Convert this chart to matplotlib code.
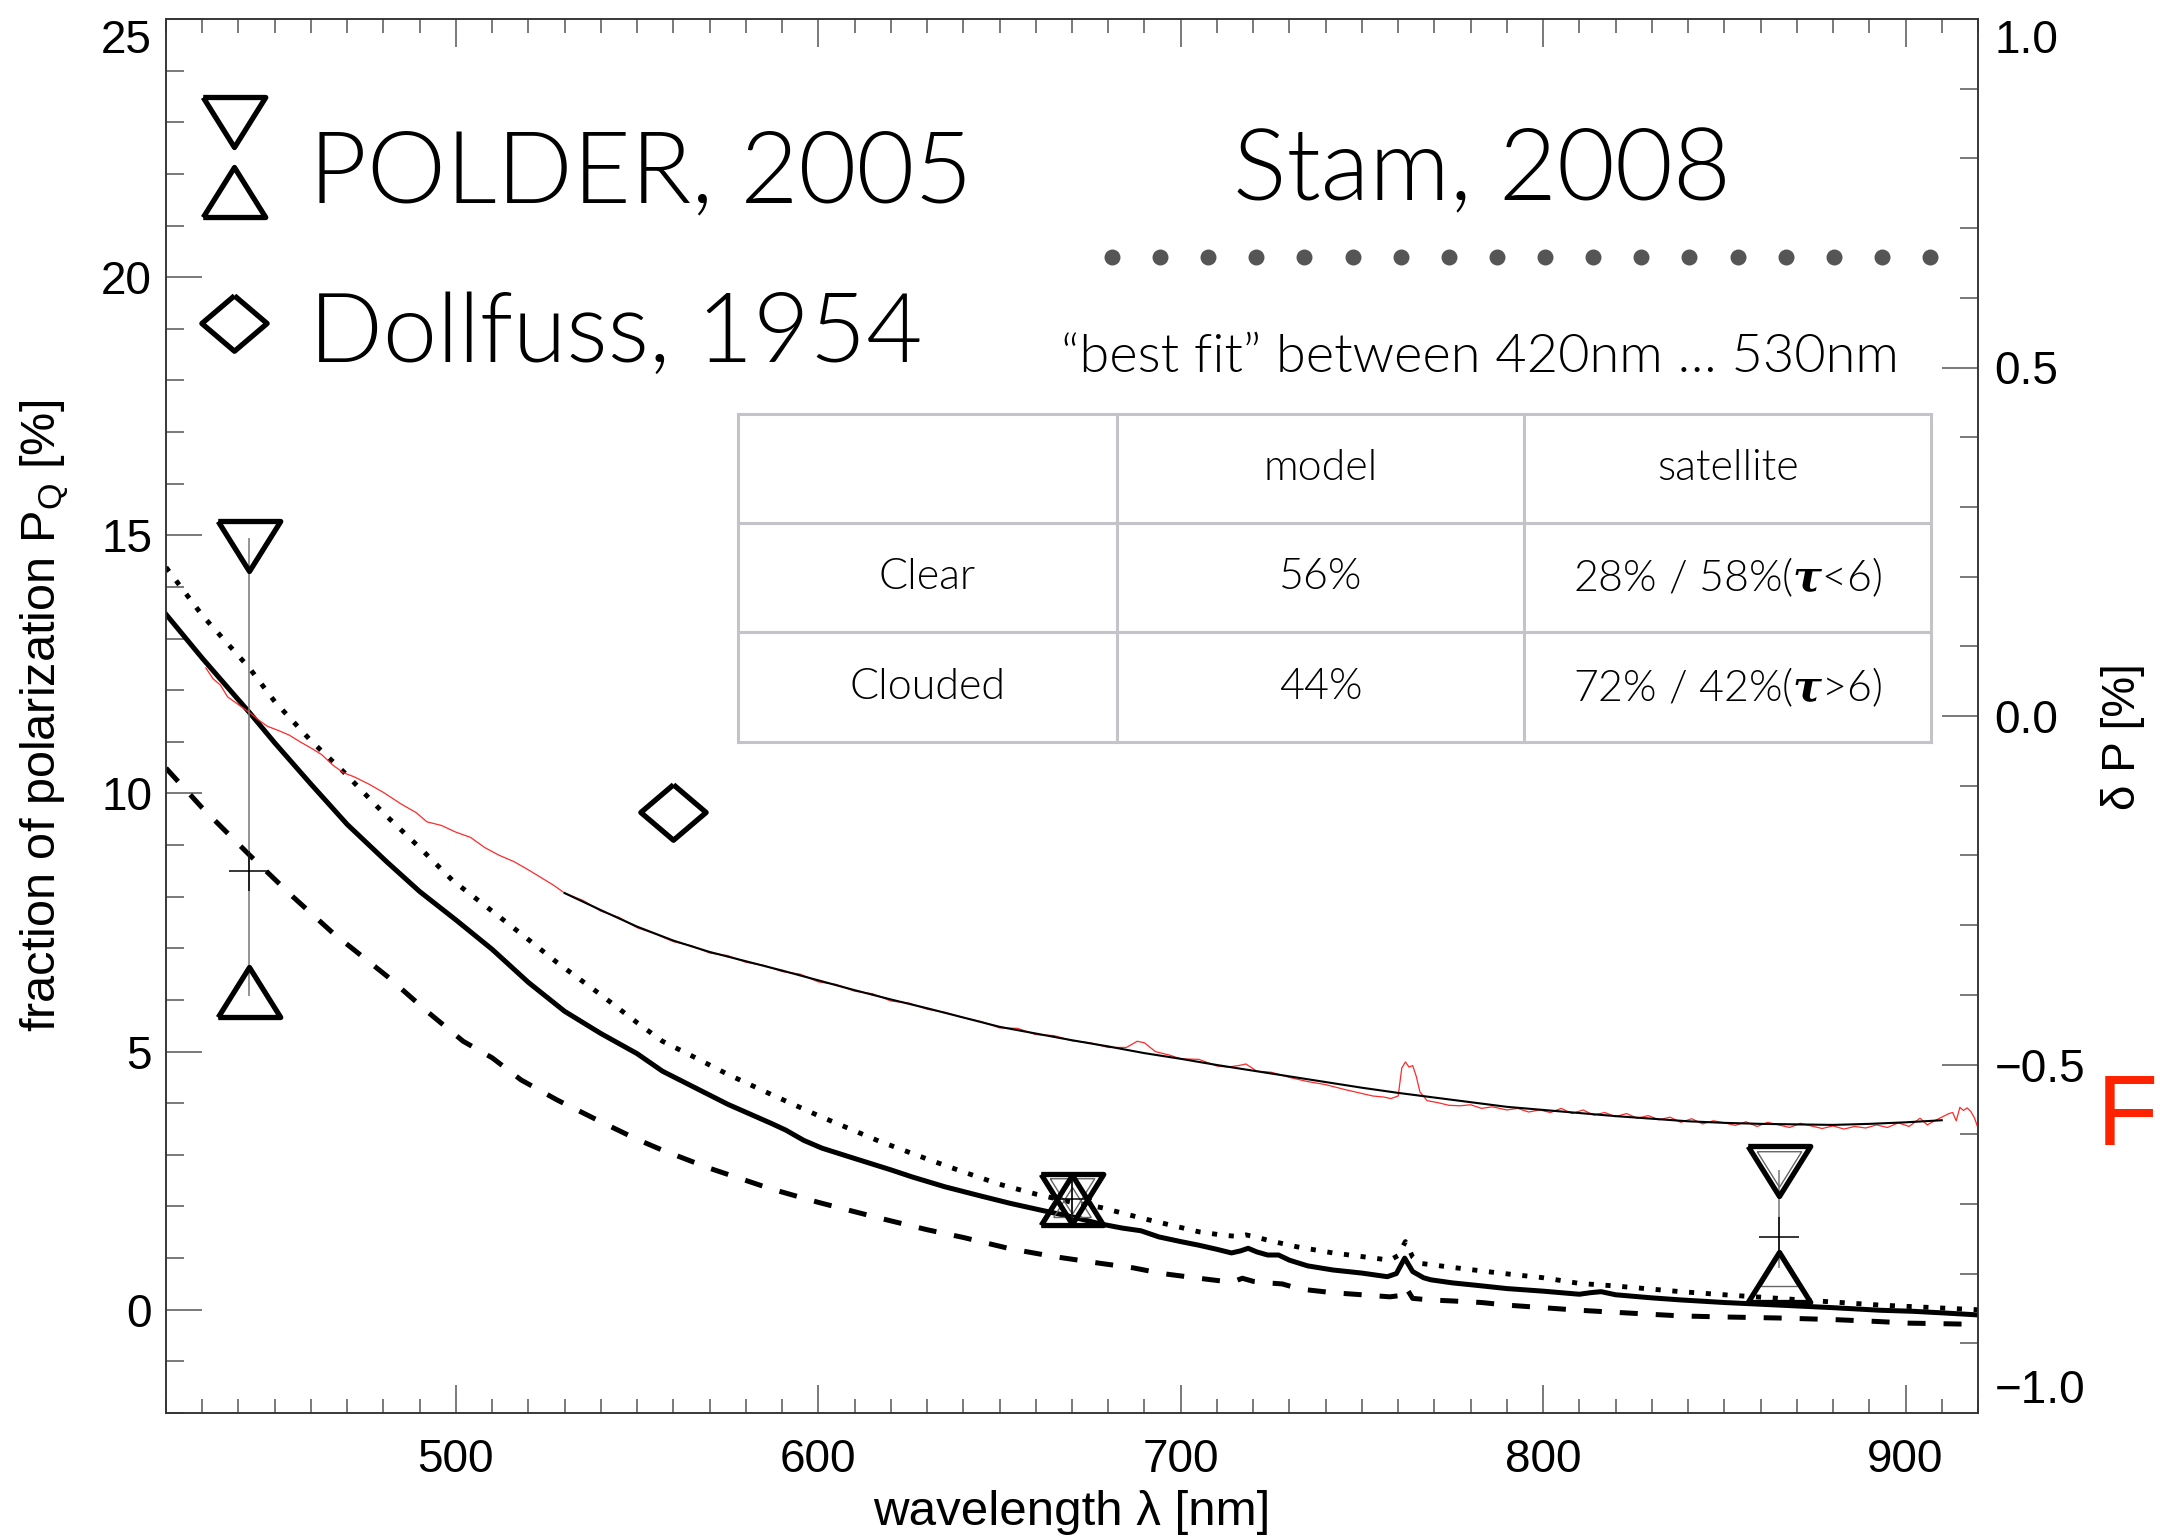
import os
import numpy as np
import matplotlib
matplotlib.use("Agg")
import matplotlib.pyplot as plt
from matplotlib import font_manager as fm
from matplotlib.ticker import MultipleLocator, FuncFormatter

plt.rcParams['font.family'] = ['Liberation Sans', 'DejaVu Sans']
plt.rcParams['mathtext.fontset'] = 'custom'
plt.rcParams['mathtext.rm'] = 'Liberation Sans'
plt.rcParams['mathtext.it'] = 'Liberation Sans:italic'
plt.rcParams['mathtext.bf'] = 'Liberation Sans:bold'
plt.rcParams['mathtext.bfit'] = 'DejaVu Serif:italic:bold'

# ---------------- data ----------------
# Model spectra, fraction of polarization P_Q [%] vs wavelength [nm]
model_solid = [
    (420, 13.47), (430, 12.62), (443, 11.57), (450, 10.98), (460, 10.18), (470, 9.40),
    (481, 8.67), (490, 8.10), (500, 7.55), (510, 6.98), (520, 6.34), (530, 5.78),
    (540, 5.35), (550, 4.96), (557, 4.62), (566, 4.30), (575, 3.98), (587, 3.61),
    (591, 3.48), (596, 3.28), (601, 3.13), (610, 2.93), (620, 2.71), (626, 2.57),
    (635, 2.38), (645, 2.20), (653, 2.06), (662, 1.92), (670, 1.80), (678, 1.66),
    (684, 1.58), (689, 1.53), (694, 1.41), (700, 1.32), (705, 1.25), (710, 1.17),
    (714, 1.10), (716.5, 1.14), (718.6, 1.19), (721, 1.12), (724, 1.06), (727, 1.06),
    (730, 0.96), (735, 0.85), (742, 0.77), (750, 0.71), (757, 0.64), (759.5, 0.70),
    (761.8, 1.00), (764, 0.74), (767, 0.62), (769, 0.58), (775, 0.52), (782, 0.47),
    (790, 0.41), (800, 0.36), (810, 0.30), (813, 0.33), (816, 0.35), (820, 0.29),
    (830, 0.23), (838, 0.19), (850, 0.14), (865, 0.09), (880, 0.04), (893, -0.01),
    (902, -0.03), (910, -0.06), (920, -0.10),
]

model_dotted = [
    (420, 14.38), (430, 13.45), (443, 12.43), (450, 11.78), (460, 11.02), (469, 10.42),
    (480, 9.62), (490, 8.95), (499, 8.32), (510, 7.72), (520, 7.17), (528, 6.72),
    (540, 6.10), (550, 5.56), (557, 5.20), (565, 4.92), (575, 4.56), (587, 4.17),
    (600, 3.76), (616.6, 3.27), (630, 2.92), (640, 2.67), (650, 2.43), (660, 2.24),
    (670, 2.08), (678, 1.98), (690, 1.76), (705, 1.51), (712, 1.44), (716, 1.42),
    (718, 1.45), (720, 1.42), (725, 1.33), (732, 1.22), (742, 1.10), (750, 1.03),
    (757.7, 0.96), (760, 1.05), (762, 1.32), (764, 1.02), (766, 0.90), (775, 0.82),
    (788, 0.71), (800, 0.62), (810, 0.51), (820, 0.46), (838, 0.35), (850, 0.29),
    (865, 0.22), (880, 0.15), (893, 0.09), (905, 0.05), (917, 0.01), (920, 0.00),
]

model_dashed = [
    (420, 10.49), (430, 9.72), (443, 8.81), (455, 8.00), (466, 7.30), (481, 6.46),
    (492, 5.78), (502, 5.20), (510, 4.88), (518, 4.45), (528, 4.06), (540, 3.64),
    (550, 3.30), (557, 3.09), (570, 2.74), (587, 2.34), (600, 2.08), (616.6, 1.78),
    (630, 1.55), (640, 1.40), (653, 1.18), (665, 1.03), (677.7, 0.90), (687, 0.81),
    (695, 0.70), (705, 0.61), (712, 0.55), (714.4, 0.54), (717, 0.61), (720, 0.55),
    (724, 0.52), (728, 0.50), (733, 0.40), (742, 0.33), (750, 0.29), (757.7, 0.25),
    (760, 0.27), (762, 0.45), (764, 0.22), (768.8, 0.19), (775, 0.17), (783, 0.14),
    (790, 0.09), (800, 0.04), (810, -0.01), (820, -0.05), (838, -0.12), (850, -0.14),
    (865, -0.16), (880, -0.19), (893, -0.23), (901, -0.26), (910, -0.27), (917, -0.28),
]

# Observed spectrum (thin red) and its smooth fit (thin black)
observed = [
    (431, 12.43), (433, 12.22), (435, 12.10), (437, 11.87), (440, 11.72), (443, 11.57),
    (446, 11.40), (448, 11.30), (451, 11.22), (454, 11.13), (457, 11.00), (460, 10.88),
    (463, 10.75), (466, 10.55), (469, 10.40), (472, 10.32), (476, 10.18), (480, 10.02),
    (485, 9.79), (489, 9.63), (492, 9.45), (496, 9.38), (500, 9.25), (504, 9.15),
    (508, 8.95), (512, 8.80), (516, 8.68), (520, 8.52), (524, 8.35), (527, 8.22),
    (530, 8.07), (535, 7.93), (540, 7.72), (545, 7.60), (550, 7.40), (555, 7.28),
    (560, 7.13), (565, 7.05), (570, 6.91), (575, 6.86), (580, 6.73), (585, 6.67),
    (590, 6.55), (595, 6.50), (600, 6.35), (605, 6.30), (610, 6.17), (615, 6.12),
    (620, 5.98), (625, 5.94), (630, 5.82), (635, 5.76), (640, 5.66), (645, 5.58),
    (650, 5.46), (655, 5.45), (660, 5.33), (665, 5.31), (670, 5.21), (675, 5.17),
    (680, 5.08), (685, 5.08), (688, 5.20), (690, 5.17), (693, 5.00), (697, 4.93),
    (700, 4.86), (705, 4.85), (710, 4.72), (713, 4.70), (716, 4.73), (718, 4.76),
    (721, 4.62), (725, 4.60), (730, 4.50), (735, 4.42), (740, 4.36), (745, 4.27),
    (750, 4.19), (753, 4.14), (756, 4.12), (758, 4.09), (760, 4.14), (761, 4.68),
    (762, 4.80), (763, 4.70), (764, 4.73), (765, 4.52), (766, 4.22), (768, 4.05),
    (771, 4.01), (774, 3.96), (777, 3.95), (780, 3.97), (783, 3.90), (786, 3.93),
    (790, 3.87), (793, 3.90), (796, 3.83), (799, 3.87), (802, 3.82), (805, 3.90),
    (808, 3.80), (811, 3.87), (814, 3.77), (817, 3.82), (820, 3.74), (823, 3.80),
    (826, 3.71), (829, 3.76), (832, 3.68), (835, 3.73), (838, 3.63), (841, 3.70),
    (844, 3.60), (847, 3.66), (850, 3.62), (853, 3.57), (856, 3.64), (859, 3.55),
    (862, 3.63), (865, 3.58), (868, 3.53), (871, 3.61), (874, 3.56), (877, 3.51),
    (880, 3.56), (883, 3.50), (886, 3.55), (889, 3.52), (892, 3.58), (895, 3.53),
    (898, 3.62), (901, 3.55), (904, 3.71), (906, 3.58), (908, 3.66), (910, 3.73),
    (912, 3.80), (913, 3.82), (914, 3.66), (915, 3.92), (916, 3.86), (917, 3.91),
    (918, 3.84), (919, 3.72), (920, 3.52),
]

observed_fit = [
    (530, 8.07), (540, 7.74), (550, 7.42), (560, 7.15), (570, 6.93), (580, 6.75),
    (590, 6.57), (600, 6.38), (610, 6.19), (620, 6.01), (630, 5.84), (640, 5.66),
    (650, 5.48), (660, 5.35), (670, 5.22), (680, 5.10), (690, 4.97), (700, 4.86),
    (710, 4.74), (720, 4.63), (730, 4.52), (740, 4.41), (750, 4.30), (760, 4.20),
    (770, 4.11), (780, 4.02), (790, 3.93), (800, 3.87), (810, 3.81), (820, 3.75),
    (830, 3.70), (840, 3.65), (850, 3.62), (860, 3.60), (870, 3.59), (880, 3.58),
    (890, 3.60), (900, 3.63), (910, 3.67),
]

# POLDER (2005) satellite values
polder_wl = [443, 670, 865]
polder_max = [14.79, 2.14, 2.68]
polder_min = [6.16, 2.12, 0.64]
polder_mean = [8.49, 2.14, 1.41]
polder_bar_hi = [14.94, 2.55, 2.70]
polder_bar_lo = [6.07, 1.75, 0.81]
polder_inner_wl = [670, 865]
polder_inner_hi = [2.20, 2.72]
polder_inner_lo = [2.08, 0.75]

# Dollfuss (1954)
dollfuss_wl = [560]
dollfuss_pq = [9.64]

table_cols = ["", "model", "satellite"]
table_rows = [
    ["Clear", "56%", r"28% / 58%($\mathbfit{\tau}$<6)"],
    ["Clouded", "44%", r"72% / 42%($\mathbfit{\tau}$>6)"],
]


# ---------------- fonts ----------------
def light_font():
    """Lato Light if it is installed, else regular Lato."""
    for f in fm.findSystemFonts():
        if os.path.basename(f).lower() in ('lato-light.ttf', 'lato-light.otf'):
            return dict(fontproperties=fm.FontProperties(fname=f))
    return dict(family=['Lato', 'DejaVu Sans'])


LIGHT = light_font()

# ---------------- figure ----------------
W, H = 2160, 1537
fig = plt.figure(figsize=(W / 100, H / 100), dpi=100)
AX_L, AX_R, AX_T, AX_B = 166, 1978, 19, 1413
ax = fig.add_axes([AX_L / W, (H - AX_B) / H, (AX_R - AX_L) / W, (AX_B - AX_T) / H])


def frac(x, y):
    """Pixel position (from top-left of the figure) -> axes fraction."""
    return (x - AX_L) / (AX_R - AX_L), (AX_B - y) / (AX_B - AX_T)


def unzip(pairs):
    a = np.array(pairs, dtype=float)
    return a[:, 0], a[:, 1]


def light_text(x, y, s, size, **kw):
    props = dict(LIGHT)
    if 'fontproperties' in props:
        fp = props['fontproperties'].copy()
        fp.set_size(size)
        props['fontproperties'] = fp
    else:
        props['fontsize'] = size
    return ax.text(x, y, s, transform=ax.transAxes, color='black', **props, **kw)


ax.set_xlim(420, 920)
ax.set_ylim(-2, 25)

# model curves
x, y = unzip(model_dashed)
ax.plot(x, y, color='black', lw=3.6, linestyle=(0, (3.6, 3.6)), dash_capstyle='butt', zorder=3)
x, y = unzip(model_dotted)
ax.plot(x, y, color='black', lw=3.5, linestyle=(0, (1.05, 2.4)), dash_capstyle='butt', zorder=3)
x, y = unzip(model_solid)
ax.plot(x, y, color='black', lw=3.6, solid_joinstyle='round', zorder=3)

# observed spectrum + fit
x, y = unzip(observed)
ax.plot(x, y, color='#ff2a2a', lw=0.9, zorder=4)
x, y = unzip(observed_fit)
ax.plot(x, y, color='black', lw=1.5, zorder=5)

# marker shapes (width-normalised)
tri_down = [(-1, 0.80), (1, 0.80), (0, -0.80), (-1, 0.80)]
tri_up = [(-1, -0.80), (1, -0.80), (0, 0.80), (-1, -0.80)]
diamond = [(0, 0.85), (1, 0), (0, -0.85), (-1, 0), (0, 0.85)]
MS_TRI, MS_DIA, MEW = 45, 47, 3.8

# POLDER error bars and symbols
ax.vlines(polder_wl, polder_bar_lo, polder_bar_hi, colors='#777777', lw=1.1, zorder=5)
ax.plot(polder_inner_wl, polder_inner_hi, linestyle='none', marker=tri_down, ms=32,
        mfc='none', mec='#666666', mew=1.0, zorder=6)
ax.plot(polder_inner_wl, polder_inner_lo, linestyle='none', marker=tri_up, ms=27,
        mfc='none', mec='#666666', mew=1.0, zorder=6)
ax.plot(polder_wl, polder_max, linestyle='none', marker=tri_down, ms=MS_TRI,
        mfc='none', mec='black', mew=MEW, zorder=7)
ax.plot(polder_wl, polder_min, linestyle='none', marker=tri_up, ms=MS_TRI,
        mfc='none', mec='black', mew=MEW, zorder=7)
ax.plot(polder_wl, polder_mean, linestyle='none', marker='+', ms=29,
        mec='black', mew=1.1, zorder=7)

# Dollfuss point
ax.plot(dollfuss_wl, dollfuss_pq, linestyle='none', marker=diamond, ms=MS_DIA,
        mfc='none', mec='black', mew=MEW, zorder=7)

# ---------------- axes styling ----------------
spine_c = '#333333'
tick_c = '#555555'
for s in ax.spines.values():
    s.set_color(spine_c)
    s.set_linewidth(1.1)

ax.xaxis.set_major_locator(MultipleLocator(100))
ax.xaxis.set_minor_locator(MultipleLocator(10))
ax.yaxis.set_major_locator(MultipleLocator(5))
ax.yaxis.set_minor_locator(MultipleLocator(1))
ax.tick_params(axis='x', which='both', direction='in', top=True, bottom=True,
               color=tick_c, width=1.1, labelsize=33, pad=18)
ax.tick_params(axis='x', which='major', length=20)
ax.tick_params(axis='x', which='minor', length=10)
ax.tick_params(axis='y', which='both', direction='in', left=True, right=False,
               color=tick_c, width=1.1, labelsize=33, pad=10)
ax.tick_params(axis='y', which='major', length=26)
ax.tick_params(axis='y', which='minor', length=13)

ax.set_xlabel('wavelength \u03bb [nm]', fontsize=35.5)
ax.xaxis.set_label_coords(0.5, frac(0, 1490)[1])
ax.set_ylabel(r'fraction of polarization P$_{\mathrm{Q}}$ [%]', fontsize=35)
ax.yaxis.set_label_coords(frac(71, 0)[0], 0.5)

ax2 = ax.twinx()
ax2.set_ylim(-1, 1)
for s in ax2.spines.values():
    s.set_color(spine_c)
    s.set_linewidth(1.1)
ax2.yaxis.set_major_locator(MultipleLocator(0.5))
ax2.yaxis.set_minor_locator(MultipleLocator(0.1))
ax2.yaxis.set_major_formatter(FuncFormatter(
    lambda v, _: ('%.1f' % (0.0 if abs(v) < 1e-9 else v)).replace('-', '\u2212')))
ax2.tick_params(axis='y', which='both', direction='in', color=tick_c, width=1.1,
                labelsize=33, pad=12)
ax2.tick_params(axis='y', which='major', length=26)
ax2.tick_params(axis='y', which='minor', length=13)
ax2.set_ylabel('\u03b4 P [%]', fontsize=33, rotation=90)
ax2.yaxis.set_label_coords(*frac(2123, 737))
ax2.yaxis.label.set_va('center')

# ---------------- key and annotations ----------------
light_text(*frac(309, 202), 'POLDER, 2005', 72, ha='left', va='baseline')
light_text(*frac(309, 362), 'Dollfuss, 1954', 70, ha='left', va='baseline')
light_text(*frac(1482, 200), 'Stam, 2008', 72, ha='center', va='baseline')

kx, _ = frac(233.5, 0)
ax.plot([kx], [frac(0, 121.5)[1]], transform=ax.transAxes, marker=tri_down, ms=MS_TRI,
        mfc='none', mec='black', mew=MEW, clip_on=False)
ax.plot([kx], [frac(0, 192)[1]], transform=ax.transAxes, marker=tri_up, ms=MS_TRI,
        mfc='none', mec='black', mew=MEW, clip_on=False)
ax.plot([kx], [frac(0, 322.5)[1]], transform=ax.transAxes, marker=diamond, ms=MS_DIA,
        mfc='none', mec='black', mew=MEW, clip_on=False)

# gray dotted key sample for the model
dx0, dy = frac(1112, 257)
dx1, _ = frac(1930, 257)
ax.plot(np.linspace(dx0, dx1, 18), np.full(18, dy), transform=ax.transAxes,
        linestyle='none', marker='o', ms=11.5, color='#555555', mec='none')

light_text(*frac(1480, 372), '\u201cbest fit\u201d between 420nm \u2026 530nm', 39,
           ha='center', va='baseline')

# summary table
tx = [738, 1117, 1524, 1931]
ty = [414, 523, 632, 742]
tbl_c = '#c4c4c8'
x0, y0 = frac(tx[0], ty[-1])
x1, y1 = frac(tx[-1], ty[0])
ax.add_patch(plt.Rectangle((x0, y0), x1 - x0, y1 - y0, transform=ax.transAxes,
                           facecolor='white', edgecolor='none', zorder=8))
for yy in ty:
    a, b = frac(tx[0], yy), frac(tx[-1], yy)
    ax.plot([a[0], b[0]], [a[1], b[1]], transform=ax.transAxes, color=tbl_c, lw=2.2,
            solid_capstyle='projecting', zorder=9)
for xx in tx:
    a, b = frac(xx, ty[0]), frac(xx, ty[-1])
    ax.plot([a[0], b[0]], [a[1], b[1]], transform=ax.transAxes, color=tbl_c, lw=2.2,
            solid_capstyle='projecting', zorder=9)
cells = [table_cols] + table_rows
for r, row in enumerate(cells):
    cy = (ty[r] + ty[r + 1]) / 2
    for c, txt in enumerate(row):
        if not txt:
            continue
        cx = (tx[c] + tx[c + 1]) / 2
        light_text(*frac(cx, cy), txt, 31, ha='center', va='center', zorder=10)

fig.text(2158 / W, 1 - 1145 / H, 'F', ha='right', va='baseline', color='#ff2200',
         fontsize=72, family=['Liberation Sans', 'DejaVu Sans'])

# edge tick labels sit inside the frame
fig.canvas.draw()
for lbl in ax.get_yticklabels():
    if lbl.get_text() == '25':
        lbl.set_va('top')
for lbl in ax2.get_yticklabels():
    if lbl.get_text() == '1.0':
        lbl.set_va('top')
    elif lbl.get_text() == '\u22121.0':
        lbl.set_va('bottom')

fig.savefig('out.png', dpi=100)
